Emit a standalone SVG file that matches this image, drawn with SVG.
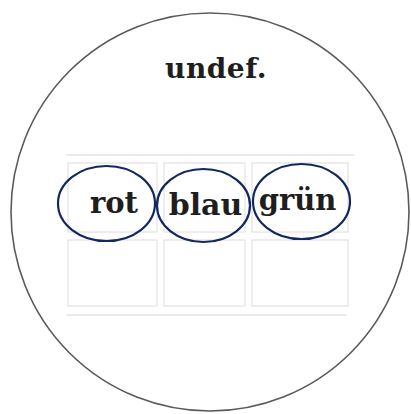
<svg xmlns="http://www.w3.org/2000/svg" width="411" height="414" viewBox="0 0 411 414">
<style>
.lbl{font-family:"DejaVu Serif","Liberation Serif",serif;font-weight:bold;fill:#1e1e1e}
.cell{fill:#fff;stroke:#dcdcdc;stroke-width:1}
.ring{fill:none;stroke:#13285e;stroke-width:2.2}
.line{stroke:#d6d6d6;stroke-width:1}
</style>
<rect width="411" height="414" fill="#fff"/>
<g id="outer">
<circle cx="210" cy="212" r="199" fill="#fff" stroke="#5a5a5a" stroke-width="1.6"/>
</g>
<g id="undef">
<text class="lbl" x="216" y="78" font-size="28" text-anchor="middle" letter-spacing="0.5">undef.</text>
</g>
<g id="grid">
<line class="line" x1="66" y1="155" x2="354" y2="155"/>
<rect class="cell" x="68" y="163" width="89" height="69"/>
<rect class="cell" x="164" y="163" width="81" height="69"/>
<rect class="cell" x="252" y="163" width="96" height="69"/>
<rect class="cell" x="68" y="240" width="89" height="66"/>
<rect class="cell" x="164" y="240" width="81" height="66"/>
<rect class="cell" x="252" y="240" width="96" height="66"/>
<line class="line" x1="67" y1="315" x2="347" y2="315"/>
</g>
<g id="rot">
<text class="lbl" x="114" y="213" font-size="29" text-anchor="middle">rot</text>
<ellipse class="ring" cx="106.5" cy="203.5" rx="48.5" ry="37.5"/>
</g>
<g id="blau">
<text class="lbl" x="205.5" y="215" font-size="30" text-anchor="middle">blau</text>
<ellipse class="ring" cx="203.5" cy="205.5" rx="46.5" ry="36.5"/>
</g>
<g id="gruen">
<text class="lbl" x="297.5" y="210" font-size="29" text-anchor="middle">grün</text>
<ellipse class="ring" cx="301.5" cy="201.5" rx="48.5" ry="37.5"/>
</g>
<g id="connectors"/>
</svg>
